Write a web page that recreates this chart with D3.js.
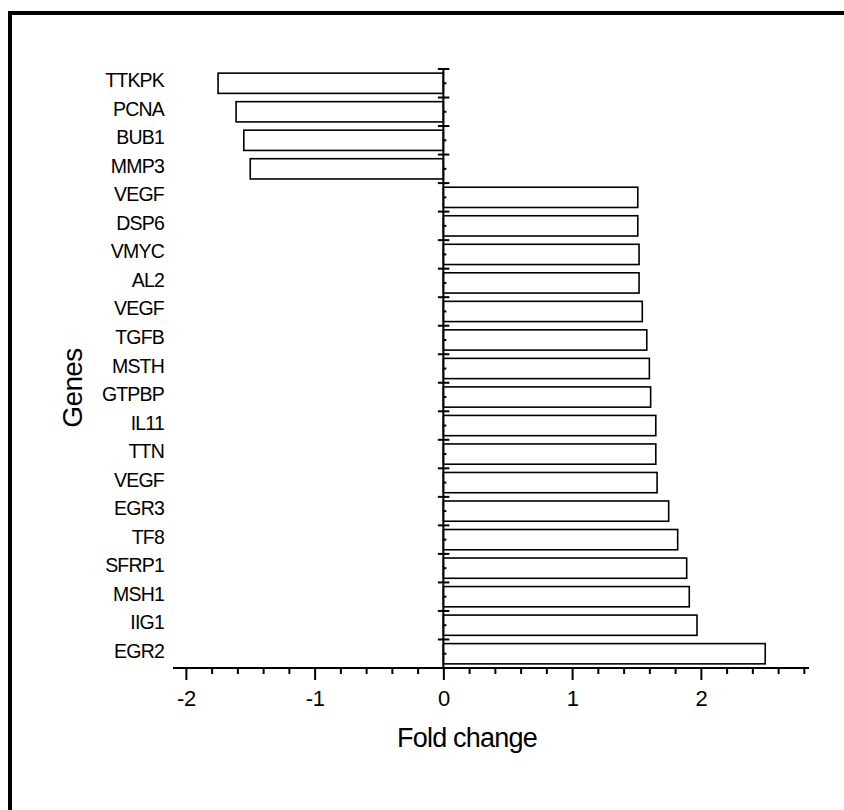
<!DOCTYPE html>
<html>
<head>
<meta charset="utf-8">
<script src="https://cdn.jsdelivr.net/npm/d3@7"></script>
<style>
  html, body { margin: 0; padding: 0; background: #fff; }
  svg { display: block; }
  text { font-family: "Liberation Sans", Arial, sans-serif; fill: #000; }
</style>
</head>
<body>
<svg id="chart" width="844" height="810"></svg>
<script>
const genes = ["TTKPK","PCNA","BUB1","MMP3","VEGF","DSP6","VMYC","AL2","VEGF","TGFB","MSTH","GTPBP","IL11","TTN","VEGF","EGR3","TF8","SFRP1","MSH1","IIG1","EGR2"];
const foldChange = [-1.75,-1.61,-1.55,-1.50,1.51,1.51,1.52,1.52,1.545,1.58,1.60,1.61,1.65,1.65,1.66,1.75,1.82,1.89,1.91,1.97,2.50];
const xMajorTicks = [-2,-1,0,1,2];
const xTickLabels = ["-2","-1","0","1","2"];
const xTitle = "Fold change";
const yTitle = "Genes";

const svg = d3.select("#chart");

// frame (extends beyond the right/bottom of the view)
svg.append("rect").attr("x",10).attr("y",13).attr("width",900).attr("height",900)
  .attr("fill","none").attr("stroke","#000").attr("stroke-width",4);

const x = d3.scaleLinear().domain([-2.1, 2.84]).range([173, 809]);
const idx = genes.map((g,i)=>i);
const y = d3.scaleBand().domain(idx).range([69, 668]).padding(0);
const step = y.step();

// bars
svg.append("g").selectAll("rect").data(idx).join("rect")
  .attr("x", i => Math.min(x(0), x(foldChange[i])))
  .attr("width", i => Math.abs(x(foldChange[i]) - x(0)))
  .attr("y", i => y(i) + step*0.145)
  .attr("height", step*0.71)
  .attr("fill","#fff").attr("stroke","#000").attr("stroke-width",1.6);

// x axis
const xAxisG = svg.append("g").attr("transform","translate(0,668)");
const minor = d3.range(-20, 29, 2).map(v => v/10).filter(v => Math.abs(v - Math.round(v)) > 1e-6);
const xAxisMinor = d3.axisBottom(x).tickValues(minor).tickSize(6).tickFormat("");
const xAxisMajor = d3.axisBottom(x).tickValues(xMajorTicks).tickSize(12).tickPadding(10)
  .tickFormat((d,i)=>xTickLabels[i]);
xAxisG.append("g").call(xAxisMinor).call(g=>{g.select(".domain").remove(); g.selectAll("line").attr("stroke-width",2);});
xAxisG.append("g").call(xAxisMajor).call(g=>{
  g.select(".domain").remove();
  g.selectAll("line").attr("stroke-width",2);
  g.selectAll("text").attr("font-size",22).attr("font-family","Liberation Sans, Arial, sans-serif")
    .attr("letter-spacing","-0.5px").attr("dy","0.72em");
});
xAxisG.append("line").attr("x1",173).attr("x2",809).attr("y1",0).attr("y2",0)
  .attr("stroke","#000").attr("stroke-width",2.2);

// y axis at x=0
const y0 = x(0);
const boundaries = idx.map(i => y(i));
svg.append("line").attr("x1",y0).attr("x2",y0).attr("y1",68).attr("y2",669)
  .attr("stroke","#000").attr("stroke-width",2);
svg.append("g").selectAll("line").data(boundaries).join("line")
  .attr("x1",y0-5.5).attr("x2",y0+6).attr("y1",d=>d).attr("y2",d=>d)
  .attr("stroke","#000").attr("stroke-width",2);
svg.append("g").selectAll("line").data(idx).join("line")
  .attr("x1",y0).attr("x2",y0+3).attr("y1",i=>y(i)+step/2).attr("y2",i=>y(i)+step/2)
  .attr("stroke","#000").attr("stroke-width",2);

// gene labels
svg.append("g").selectAll("text").data(idx).join("text")
  .attr("x",164).attr("y",i => y(i)+step/2 + 4)
  .attr("text-anchor","end").attr("font-size",19.5).attr("letter-spacing","-0.8px")
  .text(i => genes[i]);

// titles
svg.append("text").attr("x",467).attr("y",747).attr("text-anchor","middle")
  .attr("font-size",27).attr("letter-spacing","-0.8px").text(xTitle);
svg.append("text").attr("transform","translate(82,388) rotate(-90)").attr("text-anchor","middle")
  .attr("font-size",28).attr("letter-spacing","-0.6px").text(yTitle);
</script>
</body>
</html>
